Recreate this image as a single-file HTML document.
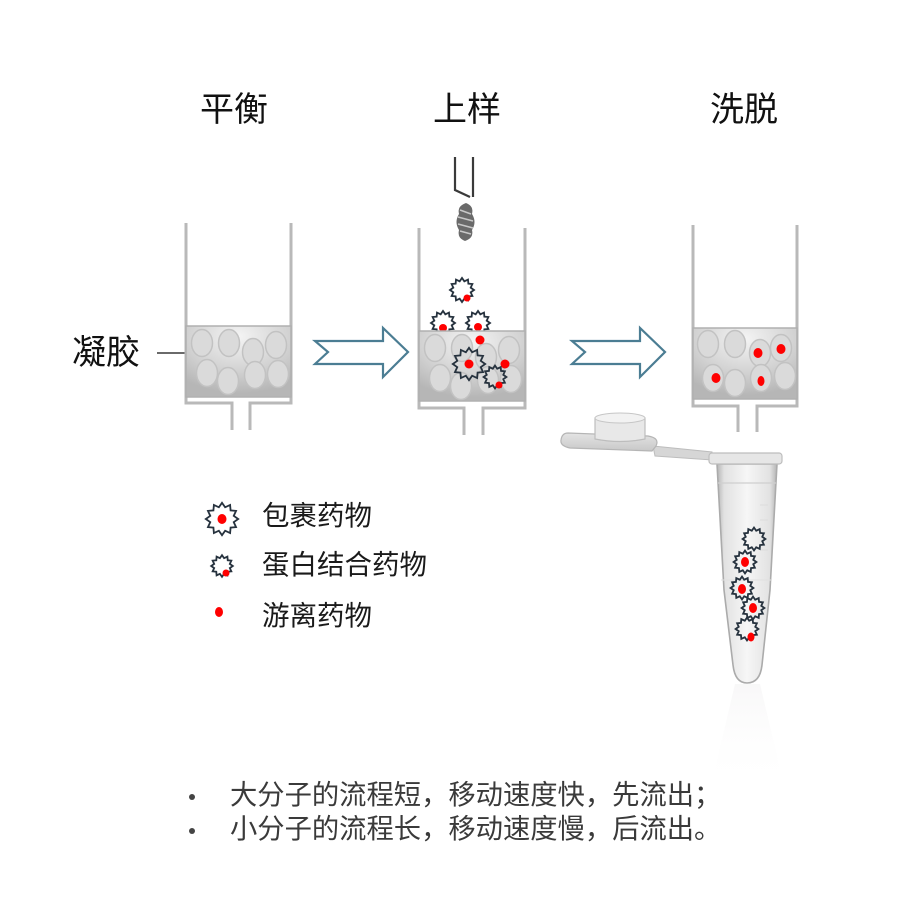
<!DOCTYPE html>
<html><head><meta charset="utf-8"><style>
html,body{margin:0;padding:0;background:#fff;}
svg{display:block;}
text{font-family:"Liberation Sans","Noto Sans CJK SC",sans-serif;}
</style></head><body>
<svg width="900" height="900" viewBox="0 0 900 900" xmlns="http://www.w3.org/2000/svg">
<defs>
<radialGradient id="gel" cx="50%" cy="15%" r="80%">
<stop offset="0" stop-color="#f4f4f4"/><stop offset="0.6" stop-color="#d2d2d2"/><stop offset="1" stop-color="#b6b6b6"/>
</radialGradient>
<linearGradient id="tube" x1="0" x2="1" y1="0" y2="0">
<stop offset="0" stop-color="#b5b5b5"/><stop offset="0.12" stop-color="#e2e2e2"/><stop offset="0.5" stop-color="#f6f6f6"/><stop offset="0.88" stop-color="#e2e2e2"/><stop offset="1" stop-color="#b5b5b5"/>
</linearGradient>
<linearGradient id="refl" x1="0" x2="0" y1="0" y2="1">
<stop offset="0" stop-color="#d8d4d8" stop-opacity="0.8"/><stop offset="1" stop-color="#ffffff" stop-opacity="0"/>
</linearGradient>
<linearGradient id="lid" x1="0" x2="0" y1="0" y2="1">
<stop offset="0" stop-color="#e4e4e4"/><stop offset="1" stop-color="#c8c8c8"/>
</linearGradient>
<polygon id="star" points="12,0 8.69,2.33 10.39,6 6.36,6.36 6,10.39 2.33,8.69 0,12 -2.33,8.69 -6,10.39 -6.36,6.36 -10.39,6 -8.69,2.33 -12,0 -8.69,-2.33 -10.39,-6 -6.36,-6.36 -6,-10.39 -2.33,-8.69 0,-12 2.33,-8.69 6,-10.39 6.36,-6.36 10.39,-6 8.69,-2.33" fill="none" stroke="#26323e" stroke-width="1.8" vector-effect="non-scaling-stroke" stroke-linejoin="miter"/>
</defs>

<!-- Titles -->
<text x="200" y="121" font-size="34" fill="#111">平衡</text>
<text x="433" y="121" font-size="34" fill="#111">上样</text>
<text x="710" y="121" font-size="34" fill="#111">洗脱</text>

<!-- Gel label -->
<text x="72" y="364" font-size="34" fill="#111">凝胶</text>
<line x1="157" y1="353" x2="194" y2="353" stroke="#111" stroke-width="1.3"/>

<!-- Column 1 -->
<g stroke="#b9b9b9" stroke-width="3" fill="none">
<polyline points="186,223 186,403 232,403 232,430"/>
<polyline points="291,223 291,403 250,403 250,430"/>
</g>
<rect x="186" y="326" width="105" height="71" fill="url(#gel)" stroke="#b0b0b0" stroke-width="1.5"/>
<g fill="#dadada" stroke="#c2c2c2" stroke-width="1.5">
<ellipse cx="202" cy="343" rx="10.5" ry="13.5"/><ellipse cx="229" cy="343" rx="10.5" ry="13.5"/>
<ellipse cx="253" cy="352" rx="10.5" ry="13.5"/><ellipse cx="276" cy="345" rx="10.5" ry="13.5"/>
<ellipse cx="207" cy="373" rx="10.5" ry="13.5"/><ellipse cx="228" cy="381" rx="10.5" ry="13.5"/>
<ellipse cx="255" cy="375" rx="10.5" ry="13.5"/><ellipse cx="278" cy="374" rx="10.5" ry="13.5"/>
</g>

<!-- Arrows -->
<polygon points="315,341 383,341 383,328 408,352 383,377 383,364 315,364 328,352" fill="#fff" stroke="#4b7d93" stroke-width="2.2" stroke-linejoin="miter"/>
<polygon points="572,341 640,341 640,328 665,352 640,377 640,364 572,364 585,352" fill="#fff" stroke="#4b7d93" stroke-width="2.2" stroke-linejoin="miter"/>

<!-- Column 2 -->
<g stroke="#b9b9b9" stroke-width="3" fill="none">
<polyline points="419,228 419,408 464,408 464,435"/>
<polyline points="525,228 525,408 483,408 483,435"/>
</g>
<!-- pipette -->
<g stroke="#3a3a3a" stroke-width="2.2" fill="none">
<polyline points="455,157 455,190 470,197"/>
<line x1="473" y1="157" x2="473" y2="197"/>
</g>
<path d="M466,203 Q474,206 472,214 Q477,222 472,230 Q474,238 465,241 Q457,238 459,230 Q454,222 459,214 Q457,206 466,203 Z" fill="#6a6a6a"/>
<g stroke="#c8c8c8" stroke-width="1.5">
<line x1="460" y1="210" x2="471" y2="214"/><line x1="458" y1="217" x2="473" y2="221"/>
<line x1="458" y1="224" x2="473" y2="228"/><line x1="460" y1="231" x2="471" y2="234"/>
</g>
<!-- stars behind gel top -->
<use href="#star" transform="translate(443,323)"/>
<use href="#star" transform="translate(478,323)"/>
<circle cx="443" cy="328" r="4" fill="#ff0000"/>
<circle cx="478" cy="327" r="4" fill="#ff0000"/>
<rect x="419" y="331" width="106" height="70" fill="url(#gel)" stroke="#b0b0b0" stroke-width="1.5"/>
<g fill="#dadada" stroke="#c2c2c2" stroke-width="1.5">
<ellipse cx="435" cy="348" rx="10.5" ry="13.5"/><ellipse cx="462" cy="348" rx="10.5" ry="13.5"/>
<ellipse cx="486" cy="357" rx="10.5" ry="13.5"/><ellipse cx="509" cy="350" rx="10.5" ry="13.5"/>
<ellipse cx="440" cy="378" rx="10.5" ry="13.5"/><ellipse cx="461" cy="386" rx="10.5" ry="13.5"/>
<ellipse cx="488" cy="380" rx="10.5" ry="13.5"/><ellipse cx="511" cy="379" rx="10.5" ry="13.5"/>
</g>
<use href="#star" transform="translate(462,290)"/>
<circle cx="467" cy="298" r="3.5" fill="#ff0000"/>
<circle cx="480" cy="340" r="4.5" fill="#ff0000"/>
<use href="#star" transform="translate(469,364) scale(1.35)"/>
<circle cx="469" cy="364" r="4.5" fill="#ff0000"/>
<circle cx="505" cy="364" r="4.5" fill="#ff0000"/>
<use href="#star" transform="translate(495,377) scale(0.95)"/>
<circle cx="499" cy="385" r="3.5" fill="#ff0000"/>

<!-- Column 3 -->
<g stroke="#b9b9b9" stroke-width="3" fill="none">
<polyline points="693,225 693,406 738,406 738,432"/>
<polyline points="797,225 797,406 757,406 757,432"/>
</g>
<rect x="693" y="328" width="104" height="71" fill="url(#gel)" stroke="#b0b0b0" stroke-width="1.5"/>
<g fill="#dadada" stroke="#c2c2c2" stroke-width="1.5">
<ellipse cx="708" cy="344" rx="10.5" ry="13.5"/><ellipse cx="735" cy="344" rx="10.5" ry="13.5"/>
<ellipse cx="760" cy="353" rx="10.5" ry="13.5"/><ellipse cx="781" cy="348" rx="10.5" ry="13.5"/>
<ellipse cx="713" cy="378" rx="10.5" ry="13.5"/><ellipse cx="735" cy="383" rx="10.5" ry="13.5"/>
<ellipse cx="761" cy="378" rx="10.5" ry="13.5"/><ellipse cx="785" cy="376" rx="10.5" ry="13.5"/>
</g>
<ellipse cx="758" cy="353" rx="4.5" ry="5" fill="#ff0000"/>
<ellipse cx="781" cy="349" rx="4.5" ry="5" fill="#ff0000"/>
<ellipse cx="716" cy="378" rx="4.5" ry="5" fill="#ff0000"/>
<ellipse cx="761" cy="381" rx="3.5" ry="5" fill="#ff0000"/>

<!-- Tube -->
<path d="M735,684 L760,684 L785,790 L710,790 Z" fill="url(#refl)" opacity="0.22"/>
<path d="M653,446 L712,452 L712,460 L655,456 Z" fill="#d6d6d6" stroke="#bdbdbd" stroke-width="1"/>
<path d="M568,433 L648,436 Q660,438 656,446 L652,451 L570,448 Q560,446 561,440 Q562,433 568,433 Z" fill="url(#lid)" stroke="#b5b5b5" stroke-width="1.2"/>
<path d="M595,418 Q620,410 645,418 L645,439 Q620,444 595,439 Z" fill="#e8e8e8" stroke="#bdbdbd" stroke-width="1.2"/>
<ellipse cx="620" cy="418" rx="25" ry="5" fill="#f2f2f2" stroke="#c6c6c6" stroke-width="1"/>
<path d="M717,464 L777,464 L770,590 L762,665 Q760,683 747,683 Q735,683 733,665 L724,590 Z" fill="url(#tube)" stroke="#ababab" stroke-width="1.6"/>
<rect x="709" y="453" width="73" height="11" rx="3" fill="#e6e6e6" stroke="#bdbdbd" stroke-width="1.2"/>
<line x1="718" y1="483" x2="776" y2="483" stroke="#cfcfcf" stroke-width="1.2"/>
<line x1="721" y1="580" x2="771" y2="580" stroke="#e0e0e0" stroke-width="1"/>
<g stroke="#dcdcdc" stroke-width="1"><line x1="760" y1="505" x2="768" y2="505"/><line x1="760" y1="520" x2="768" y2="520"/><line x1="760" y1="550" x2="768" y2="550"/></g>
<use href="#star" transform="translate(754,539) scale(0.95)"/>
<use href="#star" transform="translate(745,562) scale(0.95)"/>
<ellipse cx="745" cy="562" rx="4" ry="5" fill="#ff0000"/>
<use href="#star" transform="translate(742,588) scale(0.95)"/>
<ellipse cx="742" cy="589" rx="4" ry="5" fill="#ff0000"/>
<use href="#star" transform="translate(753,608) scale(0.95)"/>
<ellipse cx="753" cy="608" rx="4" ry="5" fill="#ff0000"/>
<use href="#star" transform="translate(747,629) scale(0.95)"/>
<ellipse cx="751" cy="637" rx="3.5" ry="4.5" fill="#ff0000"/>

<!-- Legend -->
<use href="#star" transform="translate(222,519) scale(1.35)"/>
<ellipse cx="222" cy="519" rx="4.5" ry="5" fill="#ff0000"/>
<use href="#star" transform="translate(222,566) scale(0.9)"/>
<circle cx="226" cy="573" r="3.5" fill="#ff0000"/>
<ellipse cx="219" cy="612" rx="4" ry="5" fill="#ff0000"/>
<text x="262" y="525" font-size="27.5" fill="#1a1a1a">包裹药物</text>
<text x="262" y="574" font-size="27.5" fill="#1a1a1a">蛋白结合药物</text>
<text x="262" y="625" font-size="27.5" fill="#1a1a1a">游离药物</text>

<!-- Bottom text -->
<circle cx="192" cy="797" r="3" fill="#444"/>
<circle cx="192" cy="831" r="3" fill="#444"/>
<text x="230" y="804" font-size="27.3" fill="#3a3a3a">大分子的流程短，移动速度快，先流出；</text>
<text x="230" y="838" font-size="27.3" fill="#3a3a3a">小分子的流程长，移动速度慢，后流出。</text>
</svg>
</body></html>
